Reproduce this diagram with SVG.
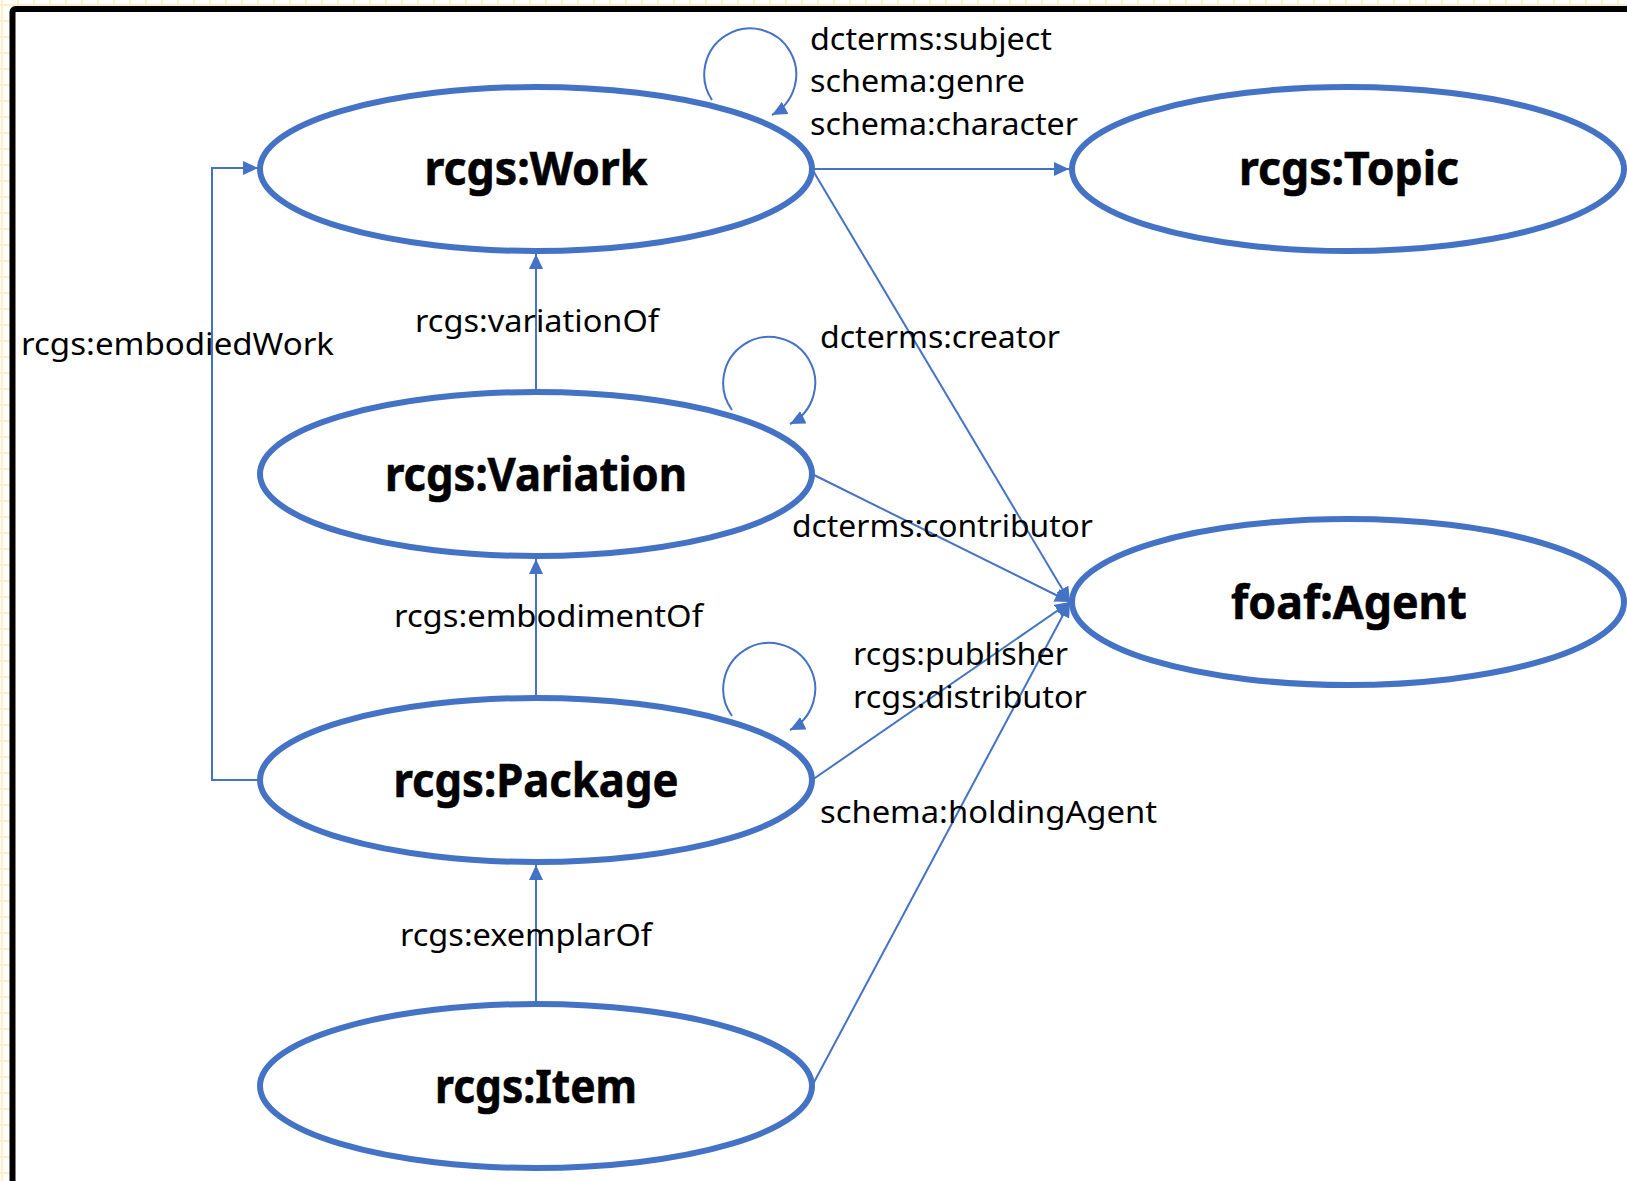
<svg xmlns="http://www.w3.org/2000/svg" width="1627" height="1181" viewBox="0 0 1627 1181">
<style>
.node{fill:#fff;stroke:#4472C4;stroke-width:6}
.nl{font-family:"Noto Sans","Open Sans",sans-serif;font-weight:bold;font-size:46px;fill:#000;stroke:#000;stroke-width:0.6;text-anchor:middle}
.el{font-family:"Noto Sans","Open Sans",sans-serif;font-size:31px;fill:#000}
.edge{fill:none;stroke:#4472C4;stroke-width:2}
</style>
<defs>
<pattern id="grid" patternUnits="userSpaceOnUse" width="16" height="16">
<rect width="16" height="16" fill="#fffdf7"/>
<rect x="1" y="0" width="2" height="16" fill="#fcefd0"/>
<rect x="0" y="4" width="16" height="2" fill="#fcefd0"/>
</pattern>
<marker id="ah" markerUnits="userSpaceOnUse" markerWidth="15" markerHeight="14" refX="15" refY="7" orient="auto">
<path d="M0,0 L15,7 L0,14 z" fill="#4472C4"/>
</marker>
</defs>
<rect width="1627" height="1181" fill="url(#grid)"/>
<rect x="12.5" y="9" width="1700" height="1300" rx="3" fill="#fff" stroke="#000" stroke-width="6"/>

<g id="connectors">
<path class="edge" d="M812,169 L1069,169" marker-end="url(#ah)"/>
<path class="edge" d="M712,100 A46,46 0 1,1 772,115" marker-end="url(#ah)"/>
<path class="edge" d="M732,410 A46,46 0 1,1 790,424" marker-end="url(#ah)"/>
<path class="edge" d="M732,716 A46,46 0 1,1 790,730" marker-end="url(#ah)"/>
<path class="edge" d="M536,392 L536,254" marker-end="url(#ah)"/>
<path class="edge" d="M536,698 L536,559" marker-end="url(#ah)"/>
<path class="edge" d="M536,1004 L536,865" marker-end="url(#ah)"/>
<path class="edge" d="M260,780 L212,780 L212,168 L258,168" marker-end="url(#ah)"/>
<path class="edge" d="M812,169 L1070,602" marker-end="url(#ah)"/>
<path class="edge" d="M812,474 L1070,602" marker-end="url(#ah)"/>
<path class="edge" d="M812,780 L1070,602" marker-end="url(#ah)"/>
<path class="edge" d="M812,1086 L1070,602" marker-end="url(#ah)"/>
<text class="el" x="810" y="50" textLength="242" lengthAdjust="spacingAndGlyphs">dcterms:subject</text>
<text class="el" x="810" y="92" textLength="215" lengthAdjust="spacingAndGlyphs">schema:genre</text>
<text class="el" x="810" y="135" textLength="268" lengthAdjust="spacingAndGlyphs">schema:character</text>
<text class="el" x="21" y="355" textLength="313" lengthAdjust="spacingAndGlyphs">rcgs:embodiedWork</text>
<text class="el" x="415" y="332" textLength="244" lengthAdjust="spacingAndGlyphs">rcgs:variationOf</text>
<text class="el" x="820" y="348" textLength="240" lengthAdjust="spacingAndGlyphs">dcterms:creator</text>
<text class="el" x="792" y="537" textLength="301" lengthAdjust="spacingAndGlyphs">dcterms:contributor</text>
<text class="el" x="394" y="627" textLength="309" lengthAdjust="spacingAndGlyphs">rcgs:embodimentOf</text>
<text class="el" x="853" y="665" textLength="215" lengthAdjust="spacingAndGlyphs">rcgs:publisher</text>
<text class="el" x="853" y="708" textLength="234" lengthAdjust="spacingAndGlyphs">rcgs:distributor</text>
<text class="el" x="820" y="823" textLength="337" lengthAdjust="spacingAndGlyphs">schema:holdingAgent</text>
<text class="el" x="400" y="946" textLength="252" lengthAdjust="spacingAndGlyphs">rcgs:exemplarOf</text>
</g>

<g id="work">
<ellipse class="node" cx="536" cy="169" rx="276" ry="82"/>
<text class="nl" x="536" y="185" textLength="223" lengthAdjust="spacingAndGlyphs">rcgs:Work</text>
</g>
<g id="topic">
<ellipse class="node" cx="1348" cy="169" rx="276" ry="82"/>
<text class="nl" x="1349" y="185" textLength="220" lengthAdjust="spacingAndGlyphs">rcgs:Topic</text>
</g>
<g id="variation">
<ellipse class="node" cx="536" cy="474" rx="276" ry="82"/>
<text class="nl" x="536" y="491" textLength="302" lengthAdjust="spacingAndGlyphs">rcgs:Variation</text>
</g>
<g id="agent">
<ellipse class="node" cx="1348" cy="602" rx="276" ry="83"/>
<text class="nl" x="1349" y="619" textLength="236" lengthAdjust="spacingAndGlyphs">foaf:Agent</text>
</g>
<g id="package">
<ellipse class="node" cx="536" cy="780" rx="276" ry="82"/>
<text class="nl" x="536" y="797" textLength="285" lengthAdjust="spacingAndGlyphs">rcgs:Package</text>
</g>
<g id="item">
<ellipse class="node" cx="536" cy="1086" rx="276" ry="82"/>
<text class="nl" x="536" y="1103" textLength="202" lengthAdjust="spacingAndGlyphs">rcgs:Item</text>
</g>
</svg>
